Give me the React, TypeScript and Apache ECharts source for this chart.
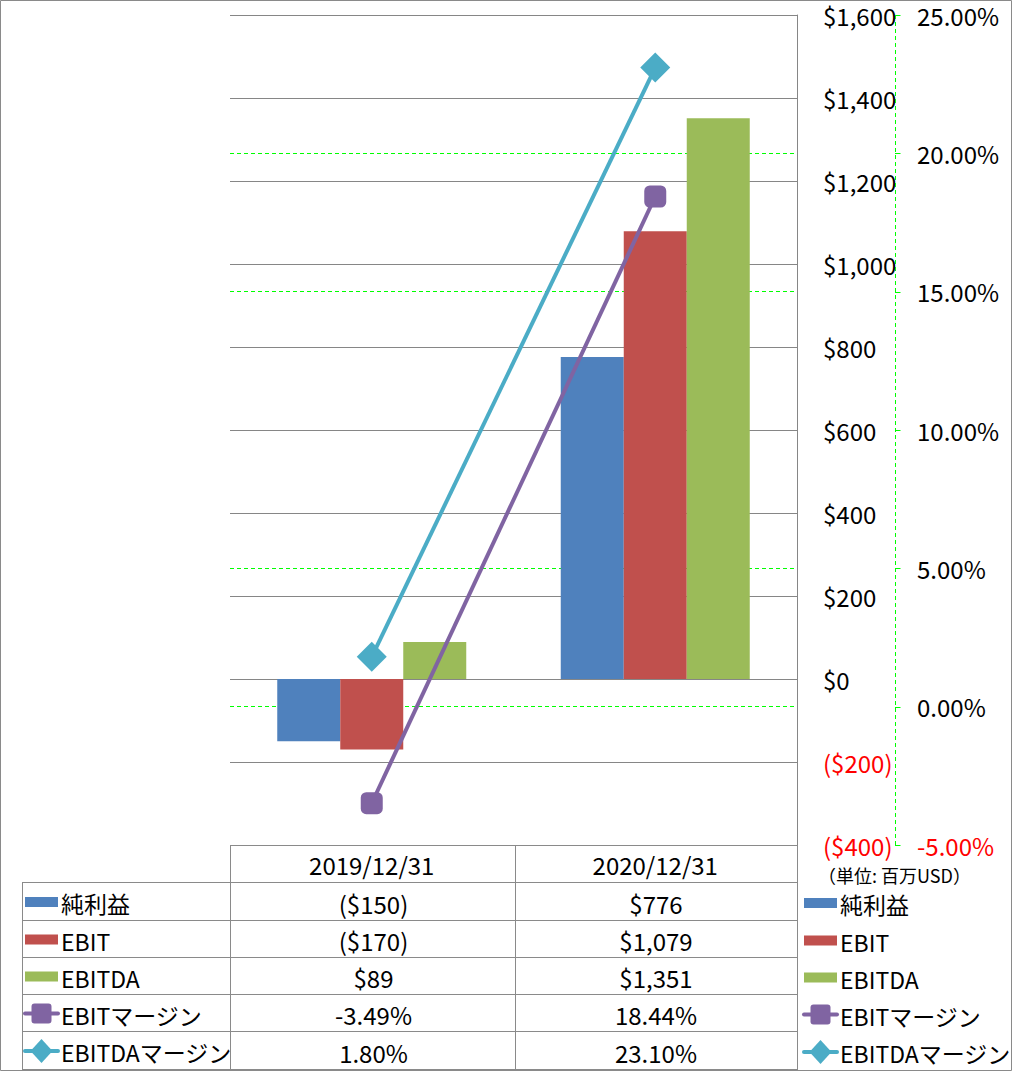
import React, { useEffect, useRef } from 'react';
import * as echarts from 'echarts';

// ---- data ----
const categories = ['2019/12/31', '2020/12/31'];
const seriesNames = ['純利益', 'EBIT', 'EBITDA', 'EBITマージン', 'EBITDAマージン'];
const netIncome = [-150, 776];
const ebit = [-170, 1079];
const ebitda = [89, 1351];
const ebitMargin = [-3.49, 18.44];
const ebitdaMargin = [1.8, 23.1];
const pctTicks = [-5, 0, 5, 10, 15, 20, 25];
const unitNote = '（単位: 百万USD）';

const COLORS = ['#4F81BD', '#C0504D', '#9BBB59', '#8064A2', '#4BACC6'];
const FONT = '"Noto Sans CJK JP", "Noto Sans", sans-serif';
const GRID_GRAY = '#868686';
const TABLE_GRAY = '#8a8a8a';
const GREEN = '#00FF00';

function fmtMoney(v: number) {
  const s = '$' + Math.abs(v).toLocaleString('en-US');
  return v < 0 ? '(' + s + ')' : s;
}
function fmtPct(v: number) {
  return v.toFixed(2) + '%';
}

export default function App() {
  const ref = useRef<HTMLDivElement>(null);
  useEffect(() => {
    document.body.style.margin = '0';
    if (!ref.current) return;
    const chart = echarts.init(ref.current, undefined, { renderer: 'svg' });

    const GL = 230, GR = 797, GT = 15, GB = 845;
    const PCT_OFFSET = 98;
    const rowLines = [845, 883, 921, 958, 995, 1032, 1070];
    const colX = [22, 230, 515, 797];
    const colCenters = [(colX[1] + colX[2]) / 2 + 1, (colX[2] + colX[3]) / 2];

    const tableRows: { name: string; values: string[]; kind: 'bar' | 'line'; idx: number }[] = [
      { name: seriesNames[0], values: netIncome.map(fmtMoney), kind: 'bar', idx: 0 },
      { name: seriesNames[1], values: ebit.map(fmtMoney), kind: 'bar', idx: 1 },
      { name: seriesNames[2], values: ebitda.map(fmtMoney), kind: 'bar', idx: 2 },
      { name: seriesNames[3], values: ebitMargin.map(fmtPct), kind: 'line', idx: 3 },
      { name: seriesNames[4], values: ebitdaMargin.map(fmtPct), kind: 'line', idx: 4 },
    ];

    const g: any[] = [];
    const ln = (x1: number, y1: number, x2: number, y2: number, stroke: string, extra: any = {}) =>
      g.push({ type: 'line', silent: true, z: 100, shape: { x1, y1, x2, y2 }, style: { stroke, lineWidth: 1, ...extra } });

    g.push({ type: 'rect', silent: true, shape: { x: 0.5, y: 0.5, width: 1011, height: 1070 }, style: { fill: 'none', stroke: TABLE_GRAY, lineWidth: 1 } });
    ln(GL, 845.5, GR + 1, 845.5, TABLE_GRAY);
    rowLines.slice(1).forEach((y) => ln(colX[0], y - 0.5, GR + 1, y - 0.5, TABLE_GRAY));
    ln(colX[0] + 0.5, 883, colX[0] + 0.5, 1070, TABLE_GRAY);
    ln(colX[1] + 0.5, 845, colX[1] + 0.5, 1070, TABLE_GRAY);
    ln(colX[2] + 0.5, 845, colX[2] + 0.5, 1070, TABLE_GRAY);
    ln(colX[3] + 0.5, 845, colX[3] + 0.5, 1070, TABLE_GRAY);

    const legendKey = (row: any, x0: number, cy: number, fontSize: number) => {
      const c = COLORS[row.idx];
      const cx = x0 + 16.5;
      if (row.kind === 'bar') {
        g.push({ type: 'rect', silent: true, shape: { x: x0, y: cy - 5, width: 33, height: 10 }, style: { fill: c } });
      } else {
        g.push({ type: 'line', silent: true, shape: { x1: x0, y1: cy, x2: x0 + 33, y2: cy }, style: { stroke: c, lineWidth: 4, lineCap: 'round' } });
        if (row.idx === 3) {
          g.push({ type: 'rect', silent: true, shape: { x: cx - 10, y: cy - 10, width: 20, height: 20, r: 3 }, style: { fill: c } });
        } else {
          g.push({ type: 'polygon', silent: true, shape: { points: [[cx, cy - 12], [cx + 11, cy], [cx, cy + 12], [cx - 11, cy]] }, style: { fill: c } });
        }
      }
      g.push({
        type: 'text', silent: true, x: x0 + 36, y: cy + 1,
        style: { text: row.name, fill: '#000', font: `${fontSize}px ${FONT}`, align: 'left', verticalAlign: 'middle', textAlign: 'left', textVerticalAlign: 'middle' },
      });
    };

    tableRows.forEach((row, r) => {
      const cy = (rowLines[r + 1] + rowLines[r + 2]) / 2;
      legendKey(row, 25, cy, 23);
      legendKey(row, 804, cy + 1, 23);
      row.values.forEach((v, c) => {
        g.push({
          type: 'text', silent: true, x: colCenters[c], y: cy + 1,
          style: { text: v, fill: '#000', font: `24px ${FONT}`, align: 'center', verticalAlign: 'middle', textAlign: 'center', textVerticalAlign: 'middle' },
        });
      });
    });

    g.push({
      type: 'text', silent: true, x: 818, y: 875,
      style: { text: unitNote, fill: '#000', font: `18px ${FONT}`, align: 'left', verticalAlign: 'middle', textAlign: 'left', textVerticalAlign: 'middle' },
    });

    const labelColor = (v: any) => (Number(v) < 0 ? '#FF0000' : '#000000');

    chart.setOption({
      animation: false,
      backgroundColor: '#ffffff',
      textStyle: { fontFamily: FONT },
      grid: { left: GL, top: GT, width: GR - GL, height: GB - GT, containLabel: false },
      xAxis: {
        type: 'category',
        data: categories,
        position: 'bottom',
        axisLine: { show: false },
        axisTick: { show: false },
        splitLine: { show: false },
        axisLabel: { margin: 7, fontSize: 24, lineHeight: 24, color: '#000', fontFamily: FONT, interval: 0 },
      },
      yAxis: [
        {
          type: 'value',
          position: 'right',
          offset: PCT_OFFSET,
          min: pctTicks[0],
          max: pctTicks[pctTicks.length - 1],
          interval: 5,
          axisLine: { show: false },
          axisTick: { show: false },
          splitLine: { show: true, lineStyle: { color: GREEN, type: [4, 3], width: 1 } },
          axisLabel: {
            margin: 22,
            fontSize: 24,
            lineHeight: 22,
            fontFamily: FONT,
            align: 'left',
            formatter: (v: number) => fmtPct(Number(v)),
            color: labelColor,
          },
        },
        {
          type: 'value',
          position: 'right',
          min: -400,
          max: 1600,
          interval: 200,
          axisLine: { show: true, lineStyle: { color: GRID_GRAY, width: 1 } },
          axisTick: { show: false },
          splitLine: { show: true, lineStyle: { color: GRID_GRAY, width: 1 } },
          axisLabel: {
            margin: 26,
            fontSize: 24,
            lineHeight: 22,
            fontFamily: FONT,
            align: 'left',
            formatter: (v: number) => fmtMoney(Number(v)),
            color: labelColor,
          },
        },
      ],
      series: [
        { name: seriesNames[0], type: 'bar', yAxisIndex: 1, data: netIncome, barWidth: 63, barGap: '0%', itemStyle: { color: COLORS[0] } },
        { name: seriesNames[1], type: 'bar', yAxisIndex: 1, data: ebit, barWidth: 63, barGap: '0%', itemStyle: { color: COLORS[1] } },
        { name: seriesNames[2], type: 'bar', yAxisIndex: 1, data: ebitda, barWidth: 63, barGap: '0%', itemStyle: { color: COLORS[2] } },
        {
          name: seriesNames[3], type: 'line', yAxisIndex: 0, data: ebitMargin, z: 5,
          symbol: 'roundRect', symbolSize: 22,
          lineStyle: { color: COLORS[3], width: 4 }, itemStyle: { color: COLORS[3] },
        },
        {
          name: seriesNames[4], type: 'line', yAxisIndex: 0, data: ebitdaMargin, z: 5,
          symbol: 'diamond', symbolSize: 30,
          lineStyle: { color: COLORS[4], width: 4 }, itemStyle: { color: COLORS[4] },
        },
      ],
      graphic: g,
    });

    // secondary (%) axis line and ticks, positioned through the axis scale
    const ax = GR + PCT_OFFSET + 0.5;
    const yTop = chart.convertToPixel({ yAxisIndex: 0 }, pctTicks[pctTicks.length - 1]) as number;
    const yBot = chart.convertToPixel({ yAxisIndex: 0 }, pctTicks[0]) as number;
    ln(ax, yTop, ax, yBot, GREEN, { lineDash: [4, 3] });
    pctTicks.forEach((t) => {
      const y = Math.round(chart.convertToPixel({ yAxisIndex: 0 }, t) as number) + 0.5;
      ln(ax - 0.5, y, ax + 5, y, GREEN);
    });
    chart.setOption({ graphic: g });

    return () => chart.dispose();
  }, []);

  return <div ref={ref} style={{ width: 1012, height: 1071 }} />;
}
